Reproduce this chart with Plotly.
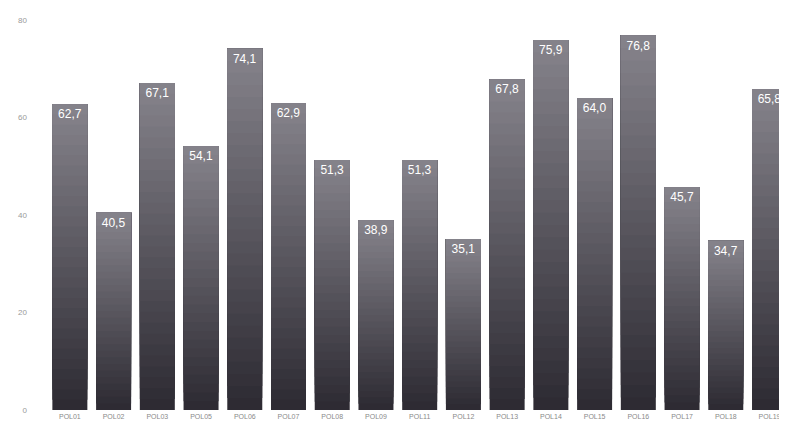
import plotly.graph_objects as go

categories = ["POL01", "POL02", "POL03", "POL05", "POL06", "POL07", "POL08", "POL09",
              "POL11", "POL12", "POL13", "POL14", "POL15", "POL16", "POL17", "POL18", "POL19"]
values = [62.7, 40.5, 67.1, 54.1, 74.1, 62.9, 51.3, 38.9, 51.3, 35.1,
          67.8, 75.9, 64.0, 76.8, 45.7, 34.7, 65.8]
y_ticks = [0, 20, 40, 60, 80]

bottom_rgb = (44, 41, 50)
top_rgb = (134, 132, 139)
N = 30

fig = go.Figure()
for k in range(N):
    t = (k + 0.5) / N
    c = tuple(int(round(b + (tp - b) * t)) for b, tp in zip(bottom_rgb, top_rgb))
    # each segment runs from its start up to the bar top; later ones cover earlier ones
    fig.add_trace(go.Bar(
        x=categories,
        y=[v * (N - k) / N for v in values],
        base=[v * k / N for v in values],
        marker=dict(color=f"rgb{c}", line=dict(width=0)),
        hoverinfo="skip",
        showlegend=False,
    ))

fig.add_trace(go.Bar(
    x=categories,
    y=values,
    marker=dict(color="rgba(0,0,0,0)", line=dict(width=0)),
    texttemplate="%{y:.1f}",
    textposition="inside",
    insidetextanchor="end",
    textangle=0,
    textfont=dict(color="white", size=12, family="Liberation Sans"),
    showlegend=False,
))

# the page body adds an 8px offset, so the figure is sized to end at the window edge
fig.update_layout(
    width=779, height=415,
    margin=dict(l=40, r=0, t=12, b=13),
    barmode="overlay",
    bargap=0.2,
    separators=",.",
    paper_bgcolor="white",
    plot_bgcolor="white",
    font=dict(family="Liberation Sans", color="#9a9a9a"),
    uniformtext=dict(minsize=12, mode="show"),
)
fig.update_xaxes(
    range=[-0.5, 16.4],
    showgrid=False, showline=False, zeroline=False,
    tickfont=dict(size=7, color="#8a8a8a"),
    ticks="", ticklabelstandoff=1,
)
fig.update_yaxes(
    range=[0, 80],
    tickvals=y_ticks,
    showgrid=False, showline=False, zeroline=False,
    tickfont=dict(size=8, color="#9a9a9a"),
    ticks="", ticklabelstandoff=20,
)

fig.write_html("out.html")
